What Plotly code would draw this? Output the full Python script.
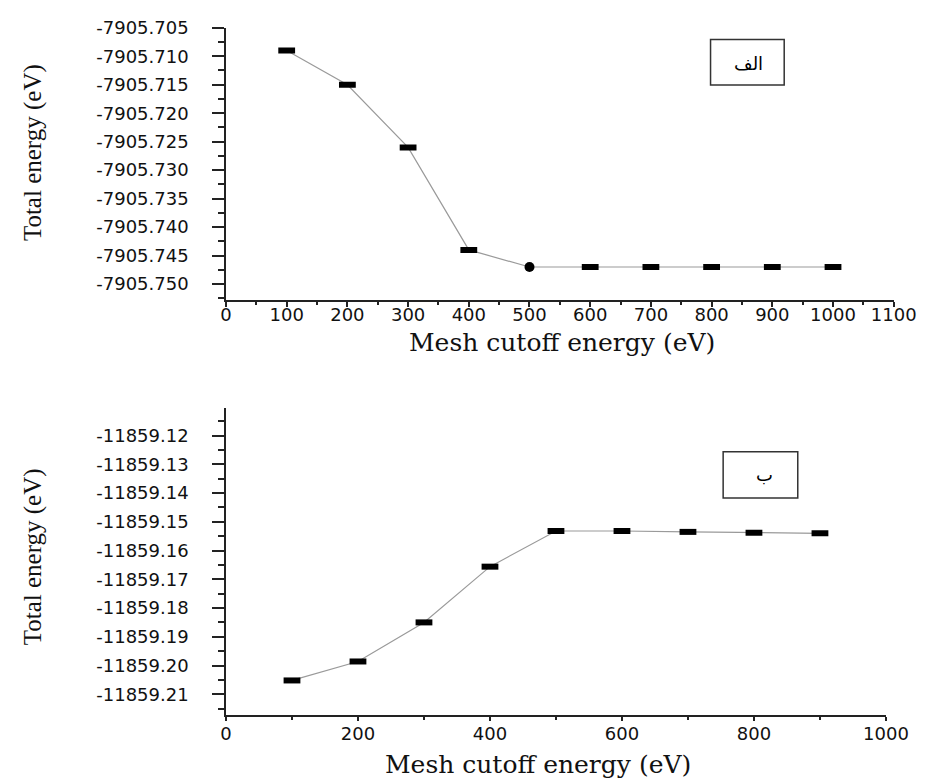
import plotly.graph_objects as go

# Convergence of total energy versus mesh cutoff energy
cutoff_a = [100, 200, 300, 400, 500, 600, 700, 800, 900, 1000]
energy_a = [-7905.709, -7905.715, -7905.726, -7905.744, -7905.747,
            -7905.747, -7905.747, -7905.747, -7905.747, -7905.747]
round_idx_a = [4]  # the 500 eV point is drawn as a round marker

cutoff_b = [100, 200, 300, 400, 500, 600, 700, 800, 900]
energy_b = [-11859.2052, -11859.1986, -11859.1850, -11859.1656, -11859.1532,
            -11859.1532, -11859.1535, -11859.1538, -11859.1540]

# Tick values / labels
xticks_a = [0, 100, 200, 300, 400, 500, 600, 700, 800, 900, 1000, 1100]
yticks_a = [-7905.705, -7905.710, -7905.715, -7905.720, -7905.725,
            -7905.730, -7905.735, -7905.740, -7905.745, -7905.750]
ylabels_a = ["-7905.705", "-7905.710", "-7905.715", "-7905.720", "-7905.725",
             "-7905.730", "-7905.735", "-7905.740", "-7905.745", "-7905.750"]

xticks_b = [0, 200, 400, 600, 800, 1000]
yticks_b = [-11859.12, -11859.13, -11859.14, -11859.15, -11859.16,
            -11859.17, -11859.18, -11859.19, -11859.20, -11859.21]
ylabels_b = ["-11859.12", "-11859.13", "-11859.14", "-11859.15", "-11859.16",
             "-11859.17", "-11859.18", "-11859.19", "-11859.20", "-11859.21"]

W, H = 939, 780
AX = "#222222"
TICKFONT = dict(family="DejaVu Sans", size=18, color="#111111")
XTITLE_FONT = dict(family="DejaVu Serif", size=25, color="#111111")
YTITLE_FONT = dict(family="Liberation Serif", size=25, color="#111111")
LINE = dict(color="#9a9a9a", width=1.2)
RECT = dict(symbol="line-ew", size=12, color="black",
            line=dict(color="black", width=6))

fig = go.Figure()

# panel A
rect_a = [i for i in range(len(cutoff_a)) if i not in round_idx_a]
fig.add_trace(go.Scatter(x=cutoff_a, y=energy_a, mode="lines", line=LINE,
                         xaxis="x", yaxis="y", showlegend=False))
fig.add_trace(go.Scatter(x=[cutoff_a[i] for i in rect_a],
                         y=[energy_a[i] for i in rect_a],
                         mode="markers", marker=RECT,
                         xaxis="x", yaxis="y", showlegend=False))
fig.add_trace(go.Scatter(x=[cutoff_a[i] for i in round_idx_a],
                         y=[energy_a[i] for i in round_idx_a],
                         mode="markers",
                         marker=dict(symbol="circle", size=10, color="black",
                                     line=dict(width=0)),
                         xaxis="x", yaxis="y", showlegend=False))

# panel B
fig.add_trace(go.Scatter(x=cutoff_b, y=energy_b, mode="lines+markers",
                         line=LINE, marker=RECT,
                         xaxis="x2", yaxis="y2", showlegend=False))

common = dict(showline=True, linecolor=AX, linewidth=1.5, showgrid=False,
              zeroline=False, ticks="outside", tickcolor=AX, tickwidth=1.5,
              tickfont=TICKFONT, tickmode="array")

fig.update_layout(
    width=W, height=H,
    margin=dict(l=0, r=0, t=0, b=0),
    paper_bgcolor="white", plot_bgcolor="white",
    xaxis=dict(domain=[227 / W, 916 / W], range=[0, 1100], anchor="y",
               tickvals=xticks_a, ticktext=[str(v) for v in xticks_a],
               ticklen=5, ticklabelstandoff=-7,
               minor=dict(tickmode="linear", tick0=50, dtick=100,
                          ticks="outside", ticklen=3, tickcolor=AX),
               **common),
    yaxis=dict(domain=[1 - 293 / H, 1 - 17 / H],
               range=[-7905.75277, -7905.705], anchor="x",
               tickvals=yticks_a, ticktext=ylabels_a,
               ticklen=12, ticklabelstandoff=20,
               minor=dict(tickmode="linear", tick0=-7905.7475, dtick=0.005,
                          ticks="outside", ticklen=6, tickcolor=AX),
               **common),
    xaxis2=dict(domain=[227 / W, 908 / W], range=[0, 1000], anchor="y2",
                tickvals=xticks_b, ticktext=[str(v) for v in xticks_b],
                ticklen=4, ticklabelstandoff=-2,
                minor=dict(tickmode="linear", tick0=100, dtick=200,
                           ticks="outside", ticklen=3, tickcolor=AX),
                **common),
    yaxis2=dict(domain=[1 - 714 / H, 1 - 403 / H],
                range=[-11859.2172, -11859.1105], anchor="x2",
                tickvals=yticks_b, ticktext=ylabels_b,
                ticklen=12, ticklabelstandoff=20,
                minor=dict(tickmode="linear", tick0=-11859.115, dtick=0.01,
                           ticks="outside", ticklen=6, tickcolor=AX),
                **common),
)

annotations = [
    dict(text="Mesh cutoff energy (eV)", x=574 / W, y=1 - 336 / H,
         font=XTITLE_FONT),
    dict(text="Mesh cutoff energy (eV)", x=549 / W, y=1 - 764 / H,
         font=XTITLE_FONT),
    dict(text="Total energy (eV)", x=28 / W, y=1 - 144 / H,
         textangle=-90, font=YTITLE_FONT),
    dict(text="Total energy (eV)", x=28 / W, y=1 - 554 / H,
         textangle=-90, font=YTITLE_FONT),
    dict(text="الف", x=766 / W, y=1 - 53 / H,
         font=dict(family="DejaVu Sans", size=18, color="black")),
    dict(text="ب", x=783 / W, y=1 - 470 / H,
         font=dict(family="DejaVu Sans", size=18, color="black")),
]
for a in annotations:
    a.update(xref="paper", yref="paper", showarrow=False,
             xanchor="center", yanchor="middle")
fig.update_layout(annotations=annotations)

# label boxes
for x0, y0, x1, y1 in [(727, 29, 803, 75), (740, 447, 817, 494)]:
    fig.add_shape(type="rect", xref="paper", yref="paper",
                  x0=x0 / W, x1=x1 / W, y0=1 - y1 / H, y1=1 - y0 / H,
                  line=dict(color="#333333", width=1.5))

fig.write_html("out.html")
